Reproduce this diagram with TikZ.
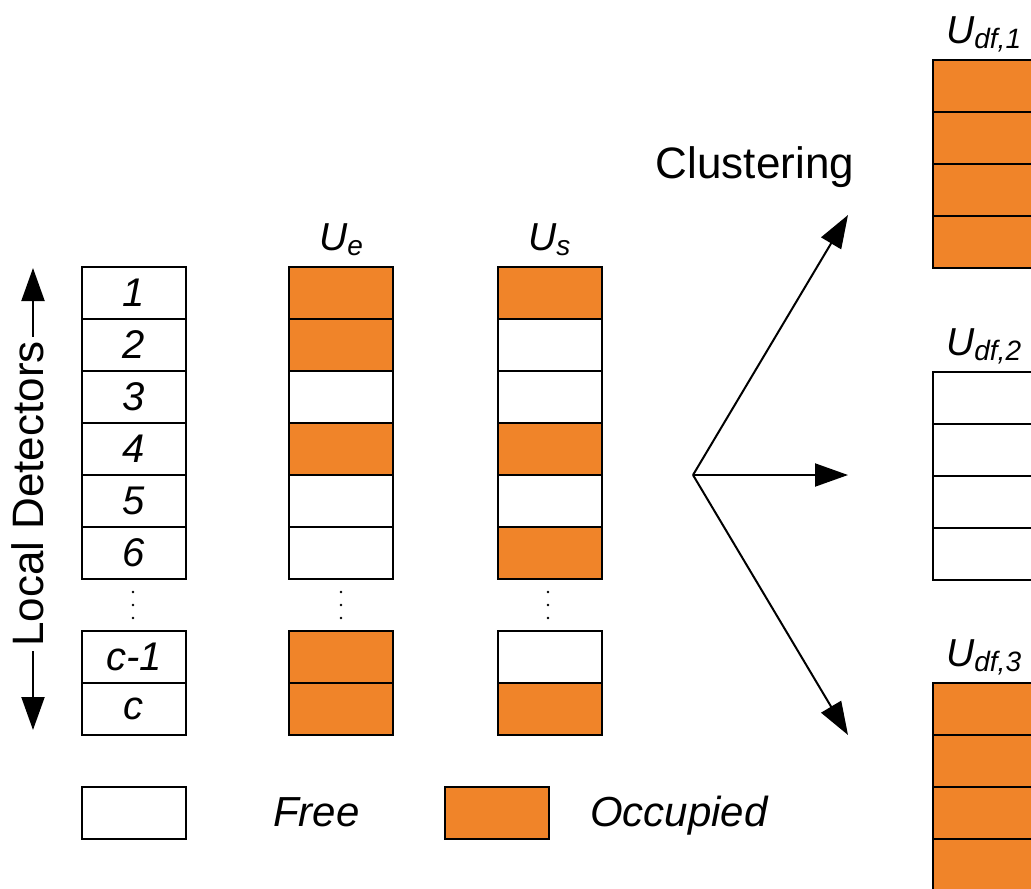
\documentclass[tikz,border=0pt]{standalone}
\usepackage{fontspec}
\setmainfont{Liberation Sans}
\usetikzlibrary{arrows.meta}
\definecolor{occ}{HTML}{F08429}
\begin{document}
\begin{tikzpicture}[x=1pt,y=-1pt,
  cell/.style={draw=black, line width=1.9pt, minimum width=104pt, minimum height=52pt,
    inner sep=0pt, anchor=north west, font=\fontsize{40}{48}\selectfont\itshape},
  bigarrow/.style={line width=2pt, -{Triangle[length=33pt,width=23pt]}},
  dblarrow/.style={line width=2pt, {Triangle[length=33pt,width=23pt]}-{Triangle[length=33pt,width=23pt]}},
  ulabel/.style={anchor=base west, inner sep=0pt, font=\fontsize{39}{44}\selectfont\itshape},
  legtext/.style={anchor=base west, inner sep=0pt, font=\fontsize{42}{48}\selectfont\itshape},
  dot/.style={circle, fill=black, inner sep=0pt, minimum size=2.6pt}
]
\useasboundingbox (0,0) rectangle (1031,889);
\clip (0,0) rectangle (1031,889);

% left columns
\foreach \i/\y/\t/\e/\s in {1/266/1/occ/occ, 2/318/2/occ/white, 3/370/3/white/white,
  4/422/4/occ/occ, 5/474/5/white/white, 6/526/6/white/occ, 7/630/c-1/occ/white, 8/682/c/occ/occ} {
  \node[cell, fill=white] (ld\i) at (81,\y) {\t};
  \node[cell, fill=\e] (ue\i) at (288,\y) {};
  \node[cell, fill=\s] (us\i) at (497,\y) {};
}

% vertical dots
\foreach \c/\x in {a/133, b/341, c/548} {
  \foreach \k/\y in {1/592, 2/605, 3/618} {
    \node[dot] (dot\c\k) at (\x,\y) {};
  }
}

% labels
\node[ulabel] (labe) at (319,250) {U{\fontsize{28}{30}\selectfont\raisebox{-5pt}{e}}};
\node[ulabel] (labs) at (528,250) {U{\fontsize{28}{30}\selectfont\raisebox{-5pt}{s}}};

% Local detectors arrow
\coordinate (ldtop) at (33,268);
\coordinate (ldbot) at (33,730);
\draw[dblarrow] (ldtop) -- (ldbot);
\node[rotate=90, anchor=base, fill=white, inner xsep=4pt, inner ysep=0pt,
  font=\fontsize{44}{50}\selectfont] (ldtext) at (43,494) {Local Detectors};

% clustering fan
\coordinate (fan) at (693,475);
\coordinate (t1) at (848,215);
\coordinate (t2) at (848,475);
\coordinate (t3) at (848,735);
\draw[bigarrow] (fan) -- (t1);
\draw[bigarrow] (fan) -- (t2);
\draw[bigarrow] (fan) -- (t3);
\node[anchor=base, inner sep=0pt, font=\fontsize{44}{50}\selectfont] (clus) at (755,178) {Clustering};

% right groups
\foreach \g/\top/\c in {1/59/occ, 2/371/white, 3/682/occ} {
  \foreach \r in {0,...,3} {
    \node[cell, fill=\c] (df\g\r) at (932,\top+52*\r) {};
  }
  \node[ulabel] (labdf\g) at (946,\top-16) {U{\fontsize{28}{30}\selectfont\raisebox{-5pt}{df,\g}}};
}

% legend
\node[cell, fill=white] (lfree) at (81,786) {};
\node[legtext] (tfree) at (273,826) {Free};
\node[cell, fill=occ] (locc) at (444,786) {};
\node[legtext] (tocc) at (590,826) {Occupied};
\end{tikzpicture}
\end{document}
